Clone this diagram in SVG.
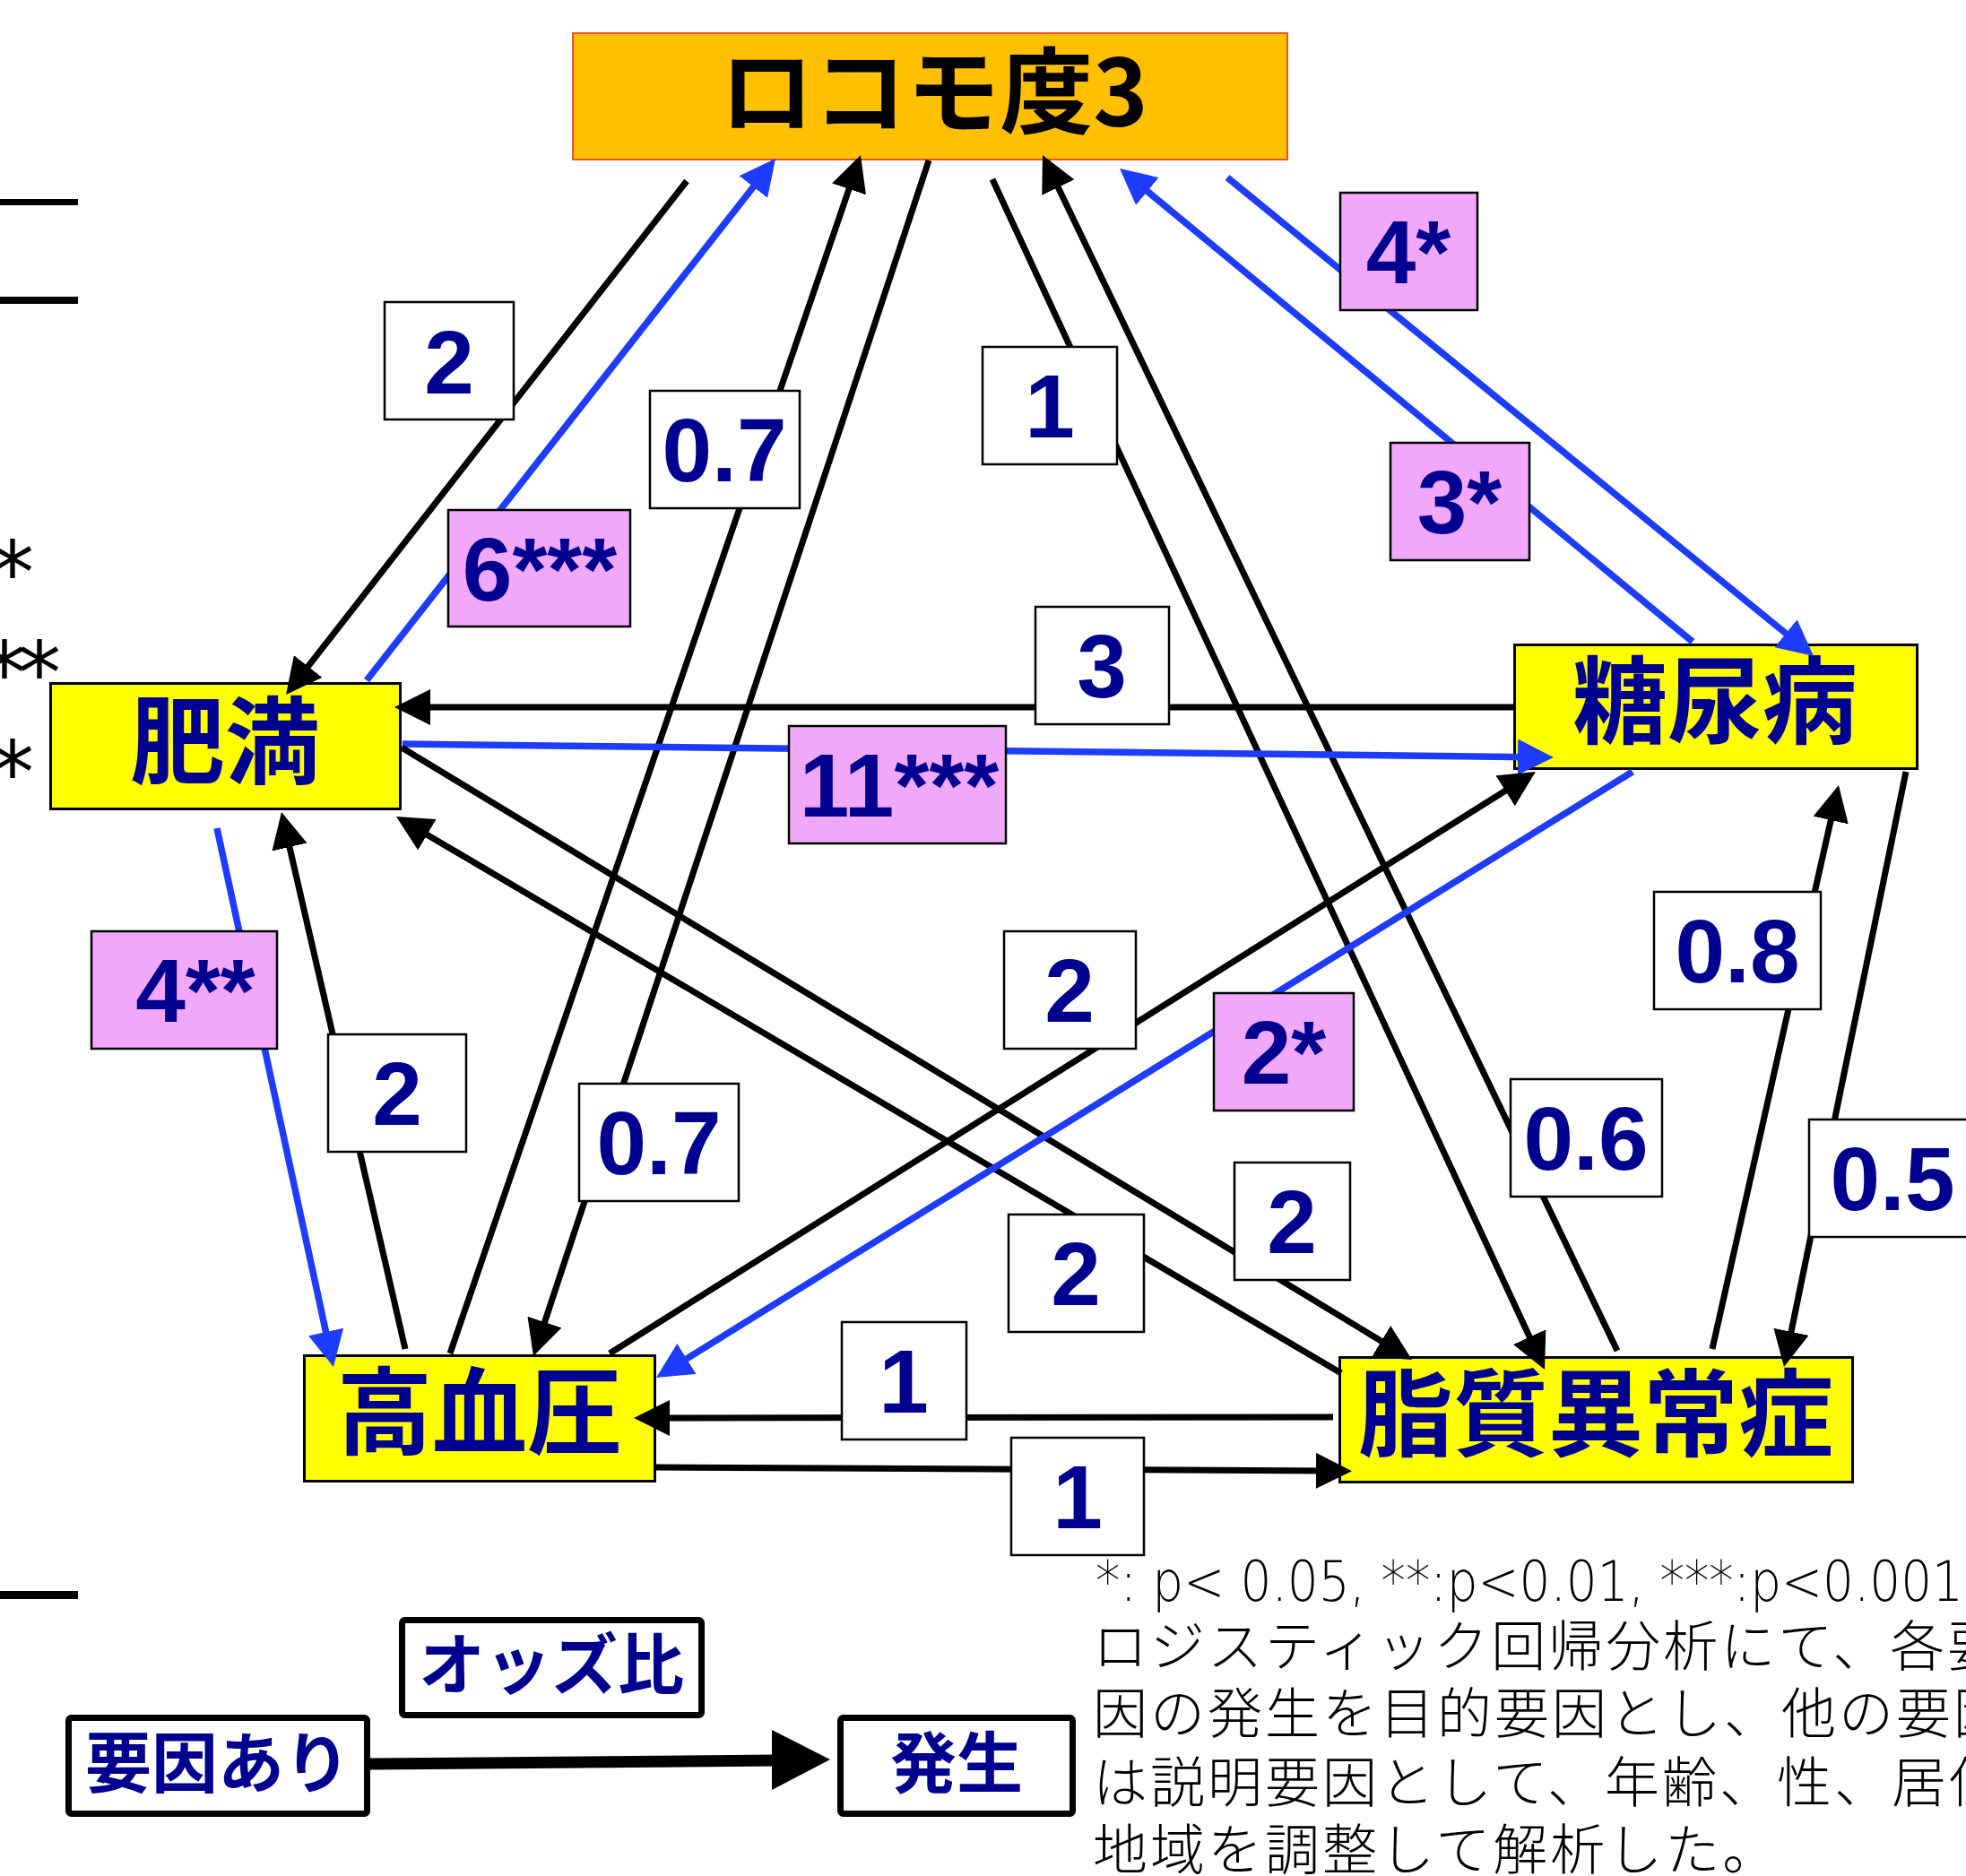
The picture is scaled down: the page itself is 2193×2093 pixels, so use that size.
<svg xmlns="http://www.w3.org/2000/svg" width="2193" height="2093" viewBox="0 0 2193 2093">
<style>
.nbox{fill:#FFFF00;stroke:#000;stroke-width:3}
.ntext{font-family:"Noto Sans CJK JP","Noto Sans CJK SC",sans-serif;font-weight:700;font-size:106px;fill:#000090;text-anchor:middle}
.lb{fill:#FFFFFF;stroke:#000;stroke-width:2.5}
.lp{fill:#F2A8FA;stroke:#000;stroke-width:2.5}
.lt{font-family:"Liberation Sans",Arial,sans-serif;font-weight:700;font-size:100px;fill:#000090;text-anchor:middle}
.k{stroke:#000;stroke-width:7;fill:none;marker-end:url(#ak)}
.b{stroke:#1E3CFF;stroke-width:7.5;fill:none;marker-end:url(#ab)}
.lg{fill:#FFFFFF;stroke:#000;stroke-width:7}
.lgt{font-family:"Noto Sans CJK JP","Noto Sans CJK SC",sans-serif;font-weight:700;font-size:74px;fill:#000090;text-anchor:middle}
.cap{font-family:"Noto Sans CJK JP","Noto Sans CJK SC",sans-serif;font-weight:300;font-size:61px;fill:#000;letter-spacing:3px}
.ast{font-family:"DejaVu Sans",sans-serif;font-size:96px;fill:#000;text-anchor:end}
</style>
<defs>
<marker id="ak" markerUnits="userSpaceOnUse" viewBox="0 -20 40 40" markerWidth="40" markerHeight="40" refX="15" refY="0" orient="auto"><path d="M0,-20 L40,0 L0,20 z" fill="#000"/></marker>
<marker id="ab" markerUnits="userSpaceOnUse" viewBox="0 -20 40 40" markerWidth="40" markerHeight="40" refX="15" refY="0" orient="auto"><path d="M0,-20 L40,0 L0,20 z" fill="#1E3CFF"/></marker>
</defs>
<rect width="2193" height="2093" fill="#FFFFFF"/>

<g id="edge-marks">
<rect x="0" y="222" width="87" height="7" fill="#000"/>
<rect x="0" y="331" width="87" height="8" fill="#000"/>
<rect x="0" y="1775" width="87" height="9" fill="#000"/>
<text class="ast" x="38" y="673">*</text>
<text class="ast" x="59" y="785" letter-spacing="-9">**</text>
<text class="ast" x="38" y="896">*</text>
</g>

<g id="node-locomo">
<rect x="639" y="37" width="797" height="141" fill="#FFC000" stroke="#F0502A" stroke-width="2"/>
<text x="1042" y="141" font-family="'Noto Sans CJK JP','Noto Sans CJK SC',sans-serif" font-weight="700" font-size="104" fill="#000" text-anchor="middle">ロコモ度3</text>
</g>
<g id="node-himan">
<rect class="nbox" x="56.5" y="762.5" width="390" height="140"/>
<text class="ntext" x="251" y="866">肥満</text>
</g>
<g id="node-tonyo">
<rect class="nbox" x="1689.5" y="719.5" width="449" height="138"/>
<text class="ntext" x="1913" y="821">糖尿病</text>
</g>
<g id="node-koketsuatsu">
<rect class="nbox" x="339.5" y="1512.5" width="391" height="140"/>
<text class="ntext" x="535" y="1614">高血圧</text>
</g>
<g id="node-shishitsu">
<rect class="nbox" x="1494.5" y="1514.5" width="572" height="139"/>
<text class="ntext" x="1780" y="1616">脂質異常症</text>
</g>

<g id="connectors">
<line class="k" x1="766" y1="202" x2="334.4" y2="755.3"/>
<line class="b" x1="409" y1="759" x2="849.6" y2="196.7"/>
<line class="k" x1="502" y1="1510" x2="951.9" y2="196.7"/>
<line class="k" x1="1036" y1="179" x2="602.8" y2="1489.3"/>
<line class="k" x1="1107" y1="200" x2="1712.5" y2="1505.3"/>
<line class="k" x1="1804" y1="1507" x2="1173.8" y2="195.5"/>
<line class="b" x1="1888" y1="716" x2="1268.3" y2="203.9"/>
<line class="b" x1="1369" y1="198" x2="2003.6" y2="716.2"/>
<line class="k" x1="1688" y1="789" x2="465" y2="789"/>
<line class="b" x1="449" y1="830" x2="1708" y2="844.7"/>
<line class="k" x1="448" y1="834" x2="1553.6" y2="1504"/>
<line class="k" x1="1496" y1="1532" x2="463.5" y2="923.7"/>
<line class="k" x1="680" y1="1510" x2="1691.8" y2="874.3"/>
<line class="b" x1="1821" y1="861" x2="753.2" y2="1523.8"/>
<line class="k" x1="452" y1="1505" x2="319.6" y2="930.4"/>
<line class="b" x1="242" y1="924" x2="366.7" y2="1500.6"/>
<line class="k" x1="1910" y1="1505" x2="2045.5" y2="900.4"/>
<line class="k" x1="2126" y1="861" x2="1995" y2="1500.5"/>
<line class="k" x1="1487" y1="1581" x2="732" y2="1582"/>
<line class="k" x1="732" y1="1637" x2="1483" y2="1641"/>
</g>

<g id="labels">
<rect class="lb" x="429" y="337" width="144" height="131"/><text class="lt" x="501" y="439">2</text>
<rect class="lp" x="500" y="569" width="203" height="130"/><text class="lt" x="602" y="670">6***</text>
<rect class="lb" x="725" y="436" width="167" height="131"/><text class="lt" x="808" y="537">0.7</text>
<rect class="lb" x="1096" y="387" width="150" height="131"/><text class="lt" x="1171" y="488">1</text>
<rect class="lp" x="1495" y="215" width="153" height="131"/><text class="lt" x="1571" y="316">4*</text>
<rect class="lp" x="1551" y="494" width="155" height="131"/><text class="lt" x="1628" y="595">3*</text>
<rect class="lb" x="1155" y="677" width="149" height="131"/><text class="lt" x="1229" y="778">3</text>
<rect class="lp" x="880" y="810" width="242" height="131"/><text class="lt" x="1003" y="911">11***</text>
<rect class="lp" x="102" y="1039" width="207" height="131"/><text class="lt" x="218" y="1140">4**</text>
<rect class="lb" x="366" y="1154" width="154" height="131"/><text class="lt" x="443" y="1255">2</text>
<rect class="lb" x="646" y="1209" width="178" height="131"/><text class="lt" x="735" y="1310">0.7</text>
<rect class="lb" x="1120" y="1039" width="147" height="131"/><text class="lt" x="1193" y="1140">2</text>
<rect class="lp" x="1354" y="1108" width="156" height="131"/><text class="lt" x="1432" y="1209">2*</text>
<rect class="lb" x="1845" y="995" width="186" height="131"/><text class="lt" x="1938" y="1096">0.8</text>
<rect class="lb" x="1685" y="1204" width="169" height="131"/><text class="lt" x="1769" y="1305">0.6</text>
<rect class="lb" x="2018" y="1249" width="186" height="131"/><text class="lt" x="2111" y="1350">0.5</text>
<rect class="lb" x="1377" y="1297" width="129" height="131"/><text class="lt" x="1441" y="1398">2</text>
<rect class="lb" x="1125" y="1355" width="151" height="131"/><text class="lt" x="1200" y="1456">2</text>
<rect class="lb" x="939" y="1475" width="139" height="131"/><text class="lt" x="1008" y="1576">1</text>
<rect class="lb" x="1128" y="1604" width="148" height="131"/><text class="lt" x="1202" y="1705">1</text>
</g>

<g id="legend">
<g id="legend-odds"><rect class="lg" x="448.5" y="1807.5" width="334" height="106" rx="3"/><text class="lgt" x="615" y="1884">オッズ比</text></g>
<g id="legend-factor"><rect class="lg" x="76.5" y="1916.5" width="333" height="107" rx="3"/><text class="lgt" x="243" y="1994">要因あり</text></g>
<g id="legend-onset"><rect class="lg" x="937.5" y="1916.5" width="259" height="107" rx="3"/><text class="lgt" x="1067" y="1994">発生</text></g>
<g id="legend-arrow"><line x1="412" y1="1968" x2="868" y2="1964" stroke="#000" stroke-width="13"/><polygon points="861,1930 926,1963 861,1997" fill="#000"/></g>
</g>

<g id="caption">
<text x="1222" y="1786" font-family="'DejaVu Sans',sans-serif" font-weight="300" font-size="62" fill="#000" textLength="968" lengthAdjust="spacingAndGlyphs">*: p&lt; 0.05, **:p&lt;0.01, ***:p&lt;0.001</text>
<text class="cap" x="1219" y="1859">ロジスティック回帰分析にて、各要</text>
<text class="cap" x="1219" y="1934">因の発生を目的要因とし、他の要因</text>
<text class="cap" x="1219" y="2011">は説明要因として、年齢、性、居住</text>
<text class="cap" x="1219" y="2086">地域を調整して解析した。</text>
</g>
</svg>
